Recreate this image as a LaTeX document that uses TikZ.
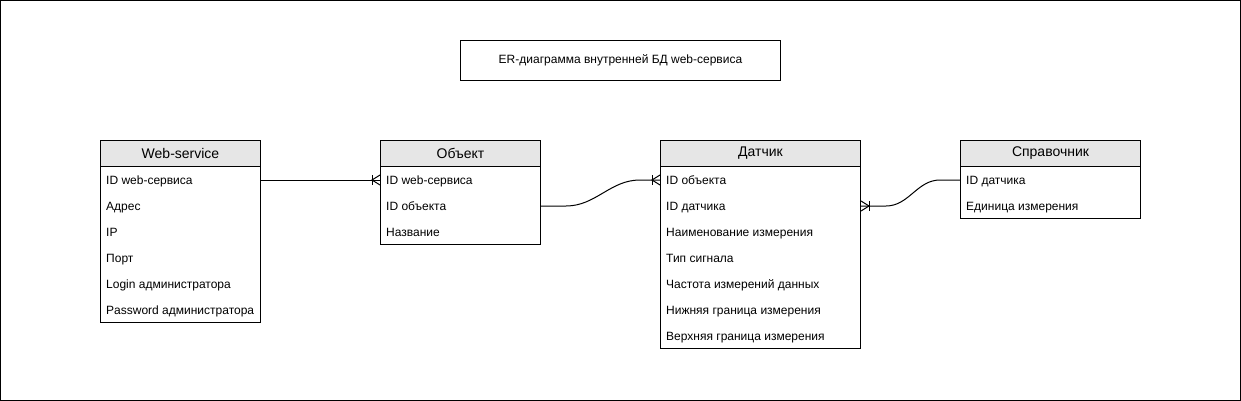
\documentclass[tikz,border=0pt]{standalone}
\usepackage{fontspec}
\setmainfont{Liberation Sans}
\usetikzlibrary{calc}
\definecolor{hdrgray}{HTML}{E6E6E6}
\tikzset{
  x=1pt, y=-1pt,
  tbl/.style={draw, line width=1pt, anchor=north west, inner sep=0pt},
  hdr/.style={draw, line width=1pt, fill=hdrgray, anchor=north west, minimum height=26, inner sep=0pt, font=\fontsize{14}{16}\selectfont},
  fld/.style={anchor=base west, inner sep=0pt, font=\fontsize{12}{14}\selectfont},
  conn/.style={line width=1pt},
  crow/.style={line width=1pt}
}
\begin{document}
\begin{tikzpicture}
\useasboundingbox (0,0) rectangle (1241,401);
\draw[line width=1pt] (0.5,0.5) rectangle (1240.5,400.5);

% title
\node[draw, line width=1pt, anchor=north west, minimum width=320, minimum height=40, inner sep=0pt, font=\fontsize{12}{14}\selectfont] (title) at (460,40) {ER-диаграмма внутренней БД web-сервиса};

% Web-service
\node[tbl, minimum width=160, minimum height=182] (ws) at (100,140) {};
\node[hdr, minimum width=160] (wsh) at (100,140) {Web-service};
\node[fld] (ws1) at (106,184.5) {ID web-сервиса};
\node[fld] (ws2) at (106,210.5) {Адрес};
\node[fld] (ws3) at (106,236.5) {IP};
\node[fld] (ws4) at (106,262.5) {Порт};
\node[fld] (ws5) at (106,288.5) {Login администратора};
\node[fld] (ws6) at (106,314.5) {Password администратора};

% Объект
\node[tbl, minimum width=160, minimum height=104] (ob) at (380,140) {};
\node[hdr, minimum width=160] (obh) at (380,140) {Объект};
\node[fld] (ob1) at (386,184.5) {ID web-сервиса};
\node[fld] (ob2) at (386,210.5) {ID объекта};
\node[fld] (ob3) at (386,236.5) {Название};

% Датчик
\node[tbl, minimum width=200, minimum height=208] (dt) at (660,140) {};
\node[hdr, minimum width=200] (dth) at (660,140) {Датчик};
\node[fld] (dt1) at (666,184.5) {ID объекта};
\node[fld] (dt2) at (666,210.5) {ID датчика};
\node[fld] (dt3) at (666,236.5) {Наименование измерения};
\node[fld] (dt4) at (666,262.5) {Тип сигнала};
\node[fld] (dt5) at (666,288.5) {Частота измерений данных};
\node[fld] (dt6) at (666,314.5) {Нижняя граница измерения};
\node[fld] (dt7) at (666,340.5) {Верхняя граница измерения};

% Справочник
\node[tbl, minimum width=180, minimum height=78] (sp) at (960,140) {};
\node[hdr, minimum width=180] (sph) at (960,140) {Справочник};
\node[fld] (sp1) at (966,184.5) {ID датчика};
\node[fld] (sp2) at (966,210.5) {Единица измерения};

% connector 1
\coordinate (a1) at ($(ws.north east)+(0,40)$);
\coordinate (e1) at ($(ob.north west)+(0,40)$);
\draw[conn] (a1) -- (e1);
\draw[crow] ($(e1)+(-8,-5)$) -- ($(e1)+(-8,5)$);
\draw[crow] ($(e1)+(0,-5)$) -- ($(e1)+(-8,0)$) -- ($(e1)+(0,5)$);

% connector 2
\coordinate (a2) at ($(ob.north east)+(0,66)$);
\coordinate (e2) at ($(dt.north west)+(0,40)$);
\draw[conn] (a2) -- ($(a2)+(25,0)$) .. controls ($(a2)+(55,0)$) and ($(e2)+(-50,0)$) .. ($(e2)+(-20,0)$) -- (e2);
\draw[crow] ($(e2)+(-8,-5)$) -- ($(e2)+(-8,5)$);
\draw[crow] ($(e2)+(0,-5)$) -- ($(e2)+(-8,0)$) -- ($(e2)+(0,5)$);

% connector 3
\coordinate (a3) at ($(sp.north west)+(0,40)$);
\coordinate (e3) at ($(dt.north east)+(0,66)$);
\draw[conn] (a3) -- ($(a3)+(-20,0)$) .. controls ($(a3)+(-43,0)$) and ($(e3)+(48,0)$) .. ($(e3)+(25,0)$) -- (e3);
\draw[crow] ($(e3)+(8,-5)$) -- ($(e3)+(8,5)$);
\draw[crow] ($(e3)+(0,-5)$) -- ($(e3)+(8,0)$) -- ($(e3)+(0,5)$);
\end{tikzpicture}
\end{document}
